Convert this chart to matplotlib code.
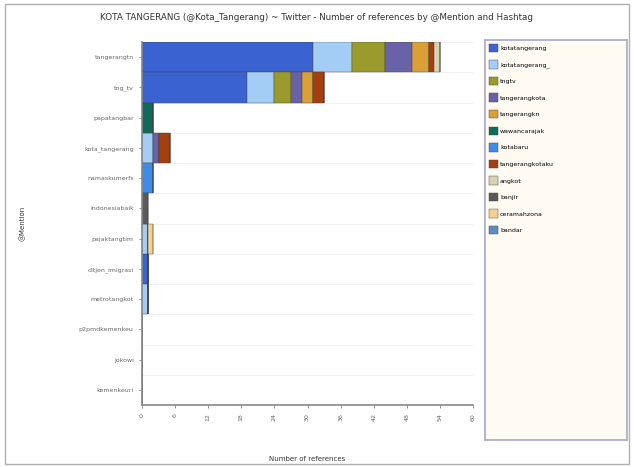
import numpy as np
import matplotlib.pyplot as plt
from matplotlib.patches import Rectangle

# mentions (rows, top to bottom)
mentions = ['tangerangtn', 'tng_tv', 'papatangbar', 'kota_tangerang', 'namaskumerfs',
            'indonesiabaik', 'pajaktangtim', 'ditjen_imigrasi', 'metrotangkot',
            'p2pmdkemenkeu', 'jokowi', 'kemenkeuri']

# hashtags (stacked series)
hashtags = ['kotatangerang', 'kotatangerang_', 'tngtv', 'tangerangkota', 'tangerangkn',
            'wawancarajak', 'kotabaru', 'tangerangkotaku', 'angkot', 'banjir',
            'ceramahzona', 'bandar']
colors = ['#3a62d0', '#a3cdf5', '#9b9a2c', '#6a62a6', '#d9a037', '#0f6a5a',
          '#3d8cec', '#a53f10', '#d8d2b0', '#5a5a5a', '#f4d08c', '#5b8bc4']

counts = {
    'kotatangerang':   [31, 19, 0, 0, 0, 0, 0, 1, 0, 0, 0, 0],
    'kotatangerang_':  [7, 5, 0, 2, 0, 0, 1, 0, 1, 0, 0, 0],
    'tngtv':           [6, 3, 0, 0, 0, 0, 0, 0, 0, 0, 0, 0],
    'tangerangkota':   [5, 2, 0, 1, 0, 0, 0, 0, 0, 0, 0, 0],
    'tangerangkn':     [3, 2, 0, 0, 0, 0, 0, 0, 0, 0, 0, 0],
    'wawancarajak':    [0, 0, 2, 0, 0, 0, 0, 0, 0, 0, 0, 0],
    'kotabaru':        [0, 0, 0, 0, 2, 0, 0, 0, 0, 0, 0, 0],
    'tangerangkotaku': [1, 2, 0, 2, 0, 0, 0, 0, 0, 0, 0, 0],
    'angkot':          [1, 0, 0, 0, 0, 0, 0, 0, 0, 0, 0, 0],
    'banjir':          [0, 0, 0, 0, 0, 1, 0, 0, 0, 0, 0, 0],
    'ceramahzona':     [0, 0, 0, 0, 0, 0, 1, 0, 0, 0, 0, 0],
    'bandar':          [0, 0, 0, 0, 0, 0, 0, 0, 0, 0, 0, 0],
}

xticks = [0, 6, 12, 18, 24, 30, 36, 42, 48, 54, 60]

fig = plt.figure(figsize=(6.34, 4.67), dpi=100)
fig.patches.append(Rectangle((0.008, 0.006), 0.984, 0.985, transform=fig.transFigure,
                             fill=False, edgecolor='#b0b0b0', linewidth=1))
fig.text(0.5, 0.962, 'KOTA TANGERANG (@Kota_Tangerang) ~ Twitter - Number of references by @Mention and Hashtag',
         ha='center', va='center', fontsize=6.3, color='#333333')

ax = fig.add_axes([142/634, 1 - 405/467, (473-142)/634, (405-42)/467])
y = np.arange(len(mentions))
left = np.zeros(len(mentions))
for tag, col in zip(hashtags, colors):
    vals = np.array(counts[tag], dtype=float)
    ax.barh(y, vals, left=left, height=1.0, color=col, edgecolor='#444444', linewidth=0.3, label=tag)
    left += vals

ax.set_ylim(len(mentions) - 0.5, -0.5)
ax.set_xlim(0, 60)
ax.set_xticks(xticks)
ax.set_xticklabels([str(t) for t in xticks], rotation=90, fontsize=4.5, color='#444444')
ax.set_yticks(y)
ax.set_yticklabels(mentions, fontsize=4.5, color='#333333')
ax.tick_params(length=2, width=0.5, colors='#666666', pad=4)
for yy in np.arange(len(mentions) + 1) - 0.5:
    ax.axhline(yy, color='#eeeeee', linewidth=0.6, zorder=0)
for s in ['top', 'right']:
    ax.spines[s].set_visible(False)
for s in ['left', 'bottom']:
    ax.spines[s].set_color('#888888')
    ax.spines[s].set_linewidth(1.2)
ax.set_xlabel('Number of references', fontsize=5, color='#333333')
ax.xaxis.set_label_coords(0.5, -0.14)
ax.set_ylabel('@Mention', fontsize=5, color='#333333')
ax.yaxis.set_label_coords(-0.35, 0.5)

# legend panel
lax = fig.add_axes([485/634, 1 - 440/467, (627-485)/634, (440-40)/467])
lax.set_facecolor('#fffaf2')
lax.set_xticks([])
lax.set_yticks([])
for s in lax.spines.values():
    s.set_color('#a8a8c8')
    s.set_linewidth(1.2)
handles, labels = ax.get_legend_handles_labels()
lax.legend(handles, labels, loc='upper left', frameon=False, fontsize=4.5,
           handlelength=1.5, handleheight=1.7, labelspacing=1.3,
           handletextpad=0.3, borderaxespad=0.2)

fig.savefig('out.png', dpi=100)
